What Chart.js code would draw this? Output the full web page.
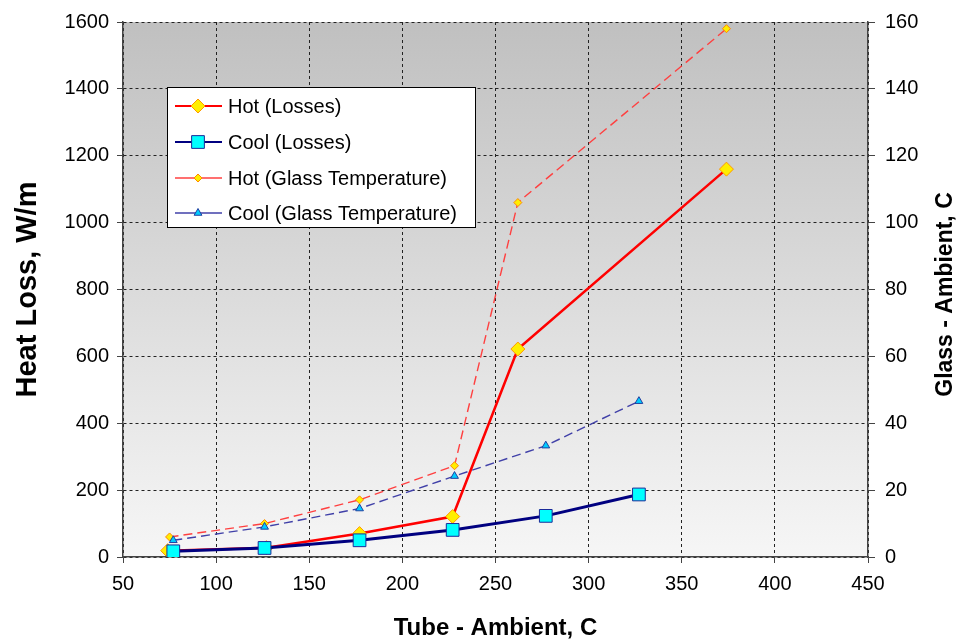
<!DOCTYPE html>
<html>
<head>
<meta charset="utf-8">
<script src="https://cdn.jsdelivr.net/npm/chart.js@4/dist/chart.umd.min.js"></script>
<style>
  html, body { margin: 0; padding: 0; background: #fff; }
  canvas { display: block; }
</style>
</head>
<body>
<canvas id="chart" width="965" height="640"></canvas>
<script>
// Dữ liệu
const hotLossX = [74, 127, 177, 227, 262, 374];
const hotLossY = [19, 28, 70, 121, 622, 1160];
const coolLossX = [77, 126, 177, 227, 277, 327];
const coolLossY = [17, 27, 50, 81, 123, 187];
const hotGlassX = [75, 126, 177, 228, 262, 374];
const hotGlassY = [6, 10, 17.1, 27.3, 106, 158];
const coolGlassX = [77, 126, 177, 228, 277, 327];
const coolGlassY = [5, 9, 14.5, 24.2, 33.3, 46.6];

const xTicks = [50, 100, 150, 200, 250, 300, 350, 400, 450];
const lossTicks = [0, 200, 400, 600, 800, 1000, 1200, 1400, 1600];
const glassTicks = [0, 20, 40, 60, 80, 100, 120, 140, 160];

const seriesNames = [
  "Hot (Losses)",
  "Cool (Losses)",
  "Hot (Glass Temperature)",
  "Cool (Glass Temperature)",
];
const rightTitle = "Glass - Ambient, C";

const toPoints = (xs, ys) => xs.map((x, i) => ({ x: x, y: ys[i] }));
const FONT = "'Liberation Sans', Arial, sans-serif";

// nền xám chuyển màu trong vùng vẽ
const plotBackground = {
  id: "plotBackground",
  beforeDraw(chart) {
    const { ctx, chartArea: a } = chart;
    const g = ctx.createLinearGradient(0, a.top, 0, a.bottom);
    g.addColorStop(0, "#c0c0c0");
    g.addColorStop(1, "#f6f6f6");
    ctx.save();
    ctx.fillStyle = g;
    ctx.fillRect(a.left, a.top, a.right - a.left, a.bottom - a.top);
    ctx.restore();
  },
};

// chú thích đặt trong vùng vẽ + tiêu đề trục phải (đọc từ dưới lên)
const boxLegend = {
  id: "boxLegend",
  afterDraw(chart) {
    const ctx = chart.ctx;
    const box = { x: 167, y: 87, w: 308, h: 140 };
    ctx.save();
    ctx.fillStyle = "#fff";
    ctx.fillRect(box.x, box.y, box.w, box.h);
    ctx.strokeStyle = "#000";
    ctx.lineWidth = 1;
    ctx.strokeRect(box.x + 0.5, box.y + 0.5, box.w, box.h);
    const rows = [106, 142, 178, 213];
    chart.data.datasets.forEach((ds, i) => {
      const y = rows[i];
      ctx.strokeStyle = ds.borderColor;
      ctx.lineWidth = Math.min(ds.borderWidth, 2);
      ctx.setLineDash([]);
      ctx.beginPath();
      ctx.moveTo(175, y);
      ctx.lineTo(222, y);
      ctx.stroke();
      ctx.fillStyle = ds.pointBackgroundColor;
      ctx.strokeStyle = ds.pointBorderColor;
      ctx.lineWidth = 1;
      Chart.helpers.drawPoint(ctx, {
        pointStyle: ds.pointStyle,
        radius: ds.pointRadius,
        rotation: 0,
        borderWidth: 1,
      }, 198, y);
      ctx.fillStyle = "#000";
      ctx.font = "20px " + FONT;
      ctx.textBaseline = "middle";
      ctx.fillText(seriesNames[i], 228, y + 1);
    });

    const y1 = chart.scales.y1;
    ctx.translate(946, (y1.top + y1.bottom) / 2 + 5);
    ctx.rotate(-Math.PI / 2);
    ctx.font = "bold 23px " + FONT;
    ctx.textAlign = "center";
    ctx.textBaseline = "middle";
    ctx.fillStyle = "#000";
    ctx.fillText(rightTitle, 0, 0);
    ctx.restore();
  },
};

new Chart(document.getElementById("chart"), {
  type: "line",
  data: {
    datasets: [
      {
        label: seriesNames[0],
        data: toPoints(hotLossX, hotLossY),
        yAxisID: "y",
        borderColor: "#ff0000",
        borderWidth: 2.5,
        pointStyle: "rectRot",
        pointRadius: 7,
        pointBackgroundColor: "#ffee00",
        pointBorderColor: "#ff9900",
        pointBorderWidth: 1,
        order: 2,
      },
      {
        label: seriesNames[1],
        data: toPoints(coolLossX, coolLossY),
        yAxisID: "y",
        borderColor: "#000080",
        borderWidth: 3,
        pointStyle: "rect",
        pointRadius: 9,
        pointBackgroundColor: "#00ffff",
        pointBorderColor: "#1a2a9a",
        pointBorderWidth: 1,
        order: 1,
      },
      {
        label: seriesNames[2],
        data: toPoints(hotGlassX, hotGlassY),
        yAxisID: "y1",
        borderColor: "#ff4040",
        borderWidth: 1.4,
        borderDash: [9, 5],
        pointStyle: "rectRot",
        pointRadius: 4,
        pointBackgroundColor: "#ffee00",
        pointBorderColor: "#ff8800",
        pointBorderWidth: 1,
        order: 4,
      },
      {
        label: seriesNames[3],
        data: toPoints(coolGlassX, coolGlassY),
        yAxisID: "y1",
        borderColor: "#4040a8",
        borderWidth: 1.4,
        borderDash: [9, 5],
        pointStyle: "triangle",
        pointRadius: 4.5,
        pointBackgroundColor: "#00ccff",
        pointBorderColor: "#2040a0",
        pointBorderWidth: 1,
        order: 3,
      },
    ],
  },
  options: {
    responsive: false,
    animation: false,
    devicePixelRatio: 1,
    layout: { padding: { top: 18, left: 0, right: 0, bottom: 0 } },
    plugins: { legend: { display: false }, tooltip: { enabled: false } },
    elements: { line: { tension: 0, fill: false } },
    scales: {
      x: {
        type: "linear",
        min: 50,
        max: 450,
        afterFit: (s) => { s.height = 83; },
        afterBuildTicks: (s) => { s.ticks = xTicks.map((v) => ({ value: v })); },
        ticks: { color: "#000", font: { family: FONT, size: 20 }, padding: 9, callback: (v) => String(v) },
        grid: { color: "#222", lineWidth: 1, tickLength: 6, tickColor: "#444" },
        border: { color: "#444", width: 1.5, dash: [3, 3] },
        title: {
          display: true,
          text: "Tube - Ambient, C",
          color: "#000",
          font: { family: FONT, size: 24, weight: "bold", lineHeight: 1 },
          padding: 0,
        },
      },
      y: {
        position: "left",
        min: 0,
        max: 1600,
        afterFit: (s) => { s.width = 123; },
        afterBuildTicks: (s) => { s.ticks = lossTicks.map((v) => ({ value: v })); },
        ticks: { color: "#000", font: { family: FONT, size: 20 }, padding: 8, callback: (v) => String(v) },
        grid: { color: "#222", lineWidth: 1, tickLength: 6, tickColor: "#444" },
        border: { color: "#444", width: 1.5, dash: [3, 3] },
        title: {
          display: true,
          text: "Heat Loss, W/m",
          color: "#000",
          font: { family: FONT, size: 29, weight: "bold", lineHeight: 1 },
          padding: { top: 13, bottom: 0 },
        },
      },
      y1: {
        position: "right",
        min: 0,
        max: 160,
        afterFit: (s) => { s.width = 97; },
        afterBuildTicks: (s) => { s.ticks = glassTicks.map((v) => ({ value: v })); },
        ticks: { color: "#000", font: { family: FONT, size: 20 }, padding: 10, callback: (v) => String(v) },
        grid: { drawOnChartArea: false, tickLength: 7, tickColor: "#444" },
        border: { color: "#444", width: 1.5 },
        title: { display: false },
      },
    },
  },
  plugins: [plotBackground, boxLegend],
});
</script>
</body>
</html>
